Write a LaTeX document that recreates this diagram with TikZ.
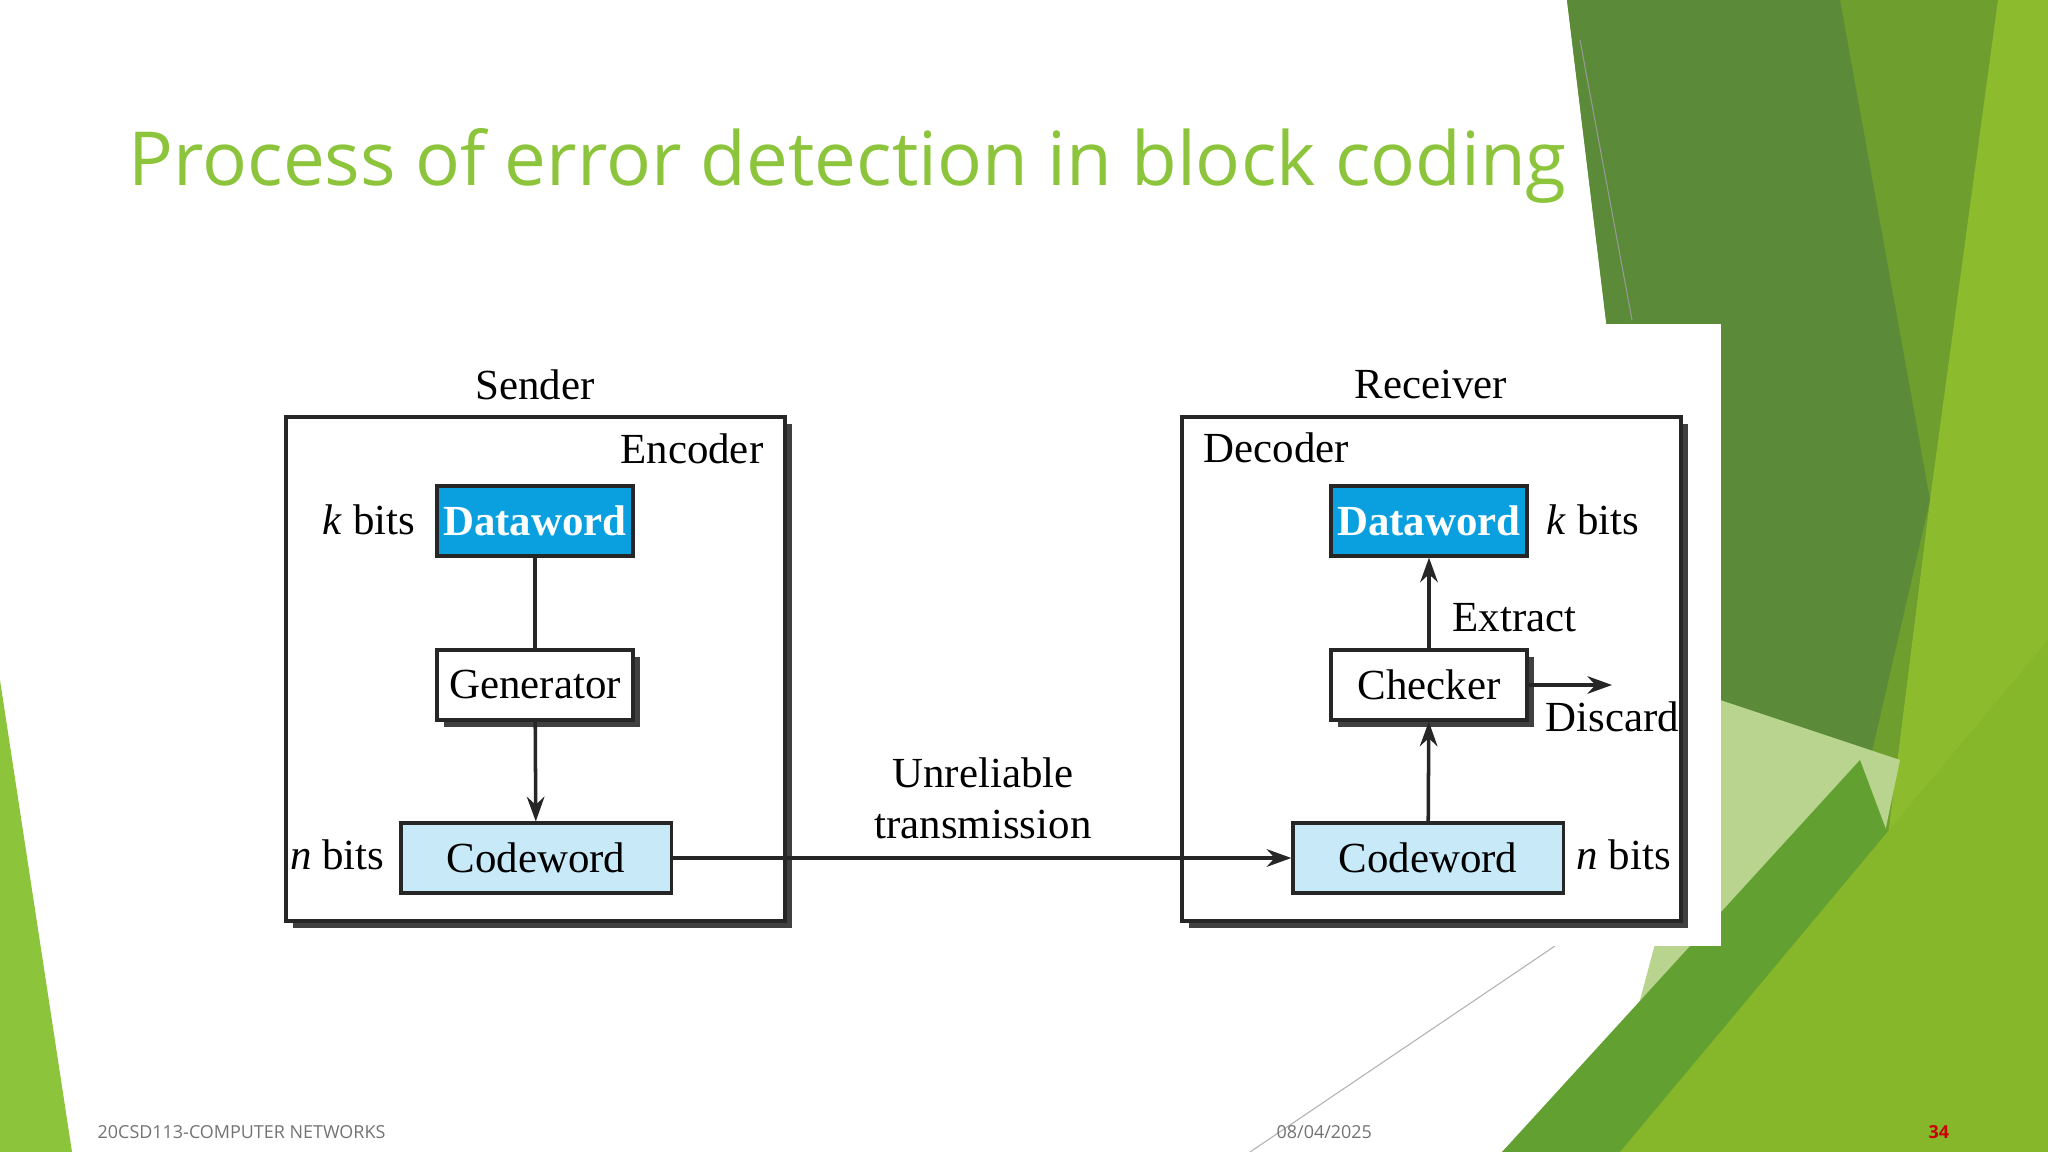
\documentclass[tikz,border=0pt]{standalone}
\usepackage{fontspec}
\setmainfont{Liberation Serif}
\newfontfamily\ttl{Open Sans}
\usetikzlibrary{shadows,arrows.meta}
\definecolor{tgreen}{HTML}{8CC43C}
\definecolor{gA}{HTML}{5B8A38}
\definecolor{gB}{HTML}{6E9E2E}
\definecolor{gC}{HTML}{8CBB2E}
\definecolor{gD}{HTML}{B8D48E}
\definecolor{gE}{HTML}{62A032}
\definecolor{gF}{HTML}{86B62A}
\definecolor{dblue}{HTML}{0AA0E0}
\definecolor{lblue}{HTML}{C8EAF8}
\begin{document}
\begin{tikzpicture}[x=0.01cm,y=-0.01cm,
  sh/.style={drop shadow={shadow xshift=2pt,shadow yshift=-2pt,fill=black!75,opacity=1}},
  blk/.style={draw=black!85,line width=0.9pt,minimum width=1.96cm,minimum height=0.70cm,inner sep=0pt,font=\fontsize{12.2}{14}\selectfont},
  lab/.style={font=\fontsize{12.2}{14}\selectfont,inner sep=0pt},
  con/.style={line width=1pt,black!85},
  arr/.style={con,-{Stealth[length=7pt,width=5pt]}}]
\useasboundingbox (0,0) rectangle (2048,1152);
% background shapes
\fill[white] (0,0) rectangle (2048,1152);
\fill[gB] (1567,0) -- (2048,0) -- (2048,1152) -- (1502,1152) -- (1720,940) -- (1640,600) -- cycle;
\fill[gA] (1567,0) -- (1840,0) -- (1930,500) -- (1870,760) -- (1720,940) -- (1640,600) -- cycle;
\fill[gC] (1998,0) -- (2048,0) -- (2048,640) -- (1880,900) -- (1930,500) -- cycle;
\fill[gD] (1720,700) -- (1900,760) -- (1850,1000) -- (1640,1000) -- cycle;
\fill[gE] (1502,1152) -- (1860,760) -- (1950,1000) -- (1800,1152) -- cycle;
\fill[gF] (1620,1152) -- (2048,640) -- (2048,1152) -- cycle;
\fill[tgreen] (0,680) -- (72,1152) -- (0,1152) -- cycle;
\draw[black!40,line width=0.3pt] (1580,40) -- (1632,320);
\draw[black!30,line width=0.3pt] (1555,946) -- (1250,1152);
\fill[white] (280,324) rectangle (1721,946);
% title
\node[anchor=base west,inner sep=0pt,text=tgreen,font=\ttl\fontsize{21.2}{26}\selectfont] (title) at (128,186) {Process of error detection in block coding};
% boxes
\draw[line width=1pt,black!85,sh,fill=white] (286,417) rectangle (785,921);
\draw[line width=1pt,black!85,sh,fill=white] (1182,417) rectangle (1681,921);
\node[lab] (snd) at (535,385) {Sender};
\node[lab] (rcv) at (1431,385) {Receiver};
\node[lab,anchor=east] (enc) at (764,449) {Encoder};
\node[lab,anchor=west] (dec) at (1203,448) {Decoder};
% sender
\node[blk,fill=dblue,text=white,font=\bfseries\fontsize{12.2}{14}\selectfont] (dw1) at (535,521) {Dataword};
\node[blk,fill=white,sh] (gen) at (535,685) {Generator};
\node[blk,fill=lblue,minimum width=2.70cm] (cw1) at (536,858) {Codeword};
\node[lab,anchor=east] (kb1) at (416,520) {\textit{k} bits};
\node[lab,anchor=east] (nb1) at (385,855) {\textit{n} bits};
% receiver
\node[blk,fill=dblue,text=white,font=\bfseries\fontsize{12.2}{14}\selectfont] (dw2) at (1429,521) {Dataword};
\node[blk,fill=white,sh] (chk) at (1429,685) {Checker};
\node[blk,fill=lblue,minimum width=2.70cm] (cw2) at (1428,858) {Codeword};
\node[lab,anchor=west] (kb2) at (1546,520) {\textit{k} bits};
\node[lab,anchor=west] (nb2) at (1576,855) {\textit{n} bits};
\node[lab,anchor=west] (ext) at (1452,618) {Extract};
\node[lab,anchor=west] (dis) at (1545,717) {Discard};
\coordinate (dend) at (1612,685);
\node[lab,align=center,font=\fontsize{12.2}{14.5}\selectfont] (ut) at (983,798) {Unreliable\\transmission};
% connectors
\draw[con] (dw1) -- (gen);
\draw[arr] (gen) -- (cw1);
\draw[arr] (cw1) -- (cw2);
\draw[arr] (cw2) -- (chk);
\draw[arr] (chk) -- (dw2);
\draw[arr] (chk.east) -- (dend);
% footer
\node[anchor=base west,inner sep=0pt,text=black!55,font=\ttl\fontsize{5.1}{7}\selectfont] (f1) at (97,1138) {20CSD113-COMPUTER NETWORKS};
\node[anchor=base west,inner sep=0pt,text=black!55,font=\ttl\fontsize{5.1}{7}\selectfont] (f2) at (1276,1138) {08/04/2025};
\node[anchor=base west,inner sep=0pt,text=red!80!black,font=\ttl\bfseries\fontsize{5.1}{7}\selectfont] (f3) at (1928,1138) {34};
\end{tikzpicture}
\end{document}
